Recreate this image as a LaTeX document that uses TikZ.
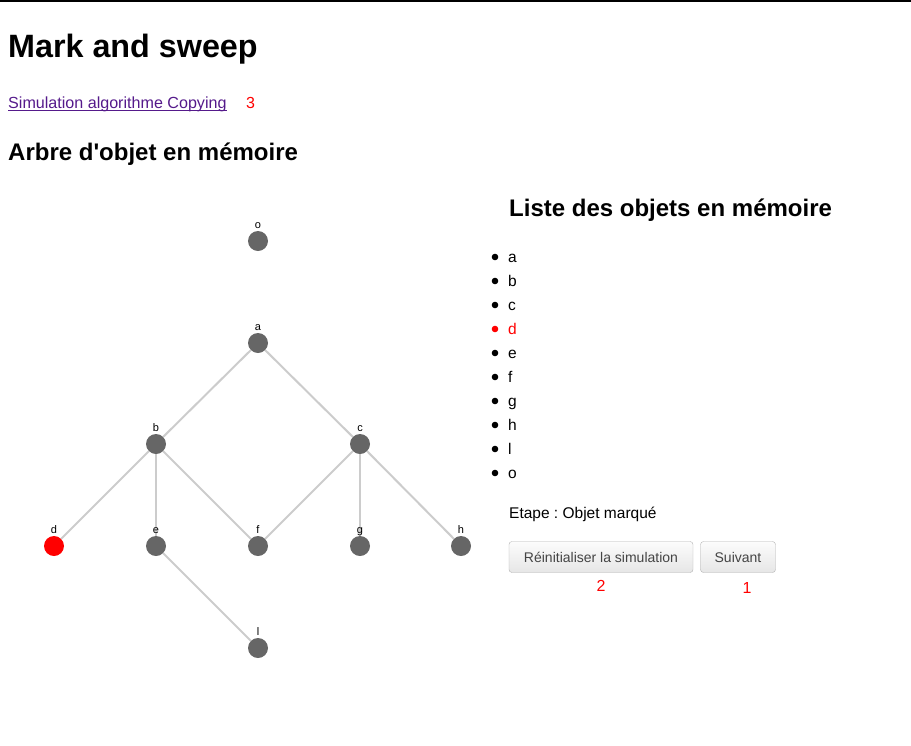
\documentclass[tikz,border=0pt]{standalone}
\usepackage{fontspec}
\setmainfont{Liberation Sans}
\usetikzlibrary{positioning}
\frenchspacing

\definecolor{nodegray}{RGB}{102,102,102}
\definecolor{edgegray}{RGB}{204,204,204}
\definecolor{linkpurple}{RGB}{85,26,139}
\definecolor{markred}{RGB}{255,0,0}
\definecolor{btnborder}{RGB}{178,178,178}
\definecolor{btntext}{RGB}{68,68,68}
\definecolor{btntop}{RGB}{252,252,252}
\definecolor{btnbot}{RGB}{230,230,230}

\tikzset{
	obj/.style={circle, fill=nodegray, minimum size=20pt, inner sep=0pt},
	marked/.style={obj, fill=markred},
	tag/.style={font=\fontsize{11}{13}\selectfont, inner sep=0pt, anchor=base},
	ref/.style={draw=edgegray, line width=2pt},
	htitle/.style={font=\fontsize{32.3}{38}\selectfont\bfseries, inner sep=0pt, anchor=base west},
	hsub/.style={font=\fontsize{24}{28}\selectfont\bfseries, inner sep=0pt, anchor=base west},
	body/.style={font=\fontsize{15.5}{18}\selectfont, inner sep=0pt, anchor=base west},
	btn/.style={draw=btnborder, rounded corners=3pt, top color=btntop, bottom color=btnbot,
		text=btntext, font=\fontsize{14}{16}\selectfont, minimum height=31pt, inner sep=0pt},
	hint/.style={text=markred, font=\fontsize{16}{18}\selectfont, inner sep=0pt, anchor=base}
}

\begin{document}
\begin{tikzpicture}[x=1pt, y=-1pt]
	\useasboundingbox (0,0) rectangle (911,745);
	\draw[line width=1.5pt] (0,0.75) -- (911,0.75);

	% en-tete
	\node[htitle] (title) at (8,57) {Mark and sweep};
	\node[body, font=\fontsize{16.1}{18}\selectfont, text=linkpurple] (link) at (8,108) {Simulation algorithme Copying};
	\draw[linkpurple, line width=1pt] ([yshift=-2.5pt]link.base west) -- ([yshift=-2.5pt]link.base east);
	\node[hint, anchor=base west] (n3) at (246,108) {3};
	\node[hsub] (tree) at (8,160) {Arbre d\textquotesingle objet en mémoire};

	% arbre
	\foreach \n/\x/\y in {o/258/241, a/258/343, b/156/444, c/360/444, e/156/546,
			f/258/546, g/360/546, h/461/546, l/258/648}
		\node[obj] (\n) at (\x,\y) {};
	\node[marked] (d) at (54,546) {};
	\foreach \u/\v in {a/b, a/c, b/d, b/e, b/f, c/f, c/g, c/h, e/l}
		\draw[ref] (\u) -- (\v);
	\foreach \n in {o,a,b,c,d,e,f,g,h,l}
		\node[tag] (\n-tag) at ([yshift=12.5pt]\n.center) {\n};

	% liste
	\node[hsub] (list) at (509,216) {Liste des objets en mémoire};
	\foreach \n/\col [count=\i from 0] in {a/black, b/black, c/black, d/markred, e/black,
			f/black, g/black, h/black, l/black, o/black} {
		\fill[\col] (495,257+24*\i) circle (3.3pt);
		\node[body, text=\col] (item-\n) at (508,262+24*\i) {\n};
	}

	% etape et boutons
	\node[body] (step) at (509,518) {Etape : Objet marqué};
	\node[btn, minimum width=184pt] (reset) at (601,557) {Réinitialiser la simulation};
	\node[btn, minimum width=75pt] (next) at (738,557) {Suivant};
	\node[hint] (n2) at (601,591) {2};
	\node[hint] (n1) at (747,593) {1};
\end{tikzpicture}
\end{document}
